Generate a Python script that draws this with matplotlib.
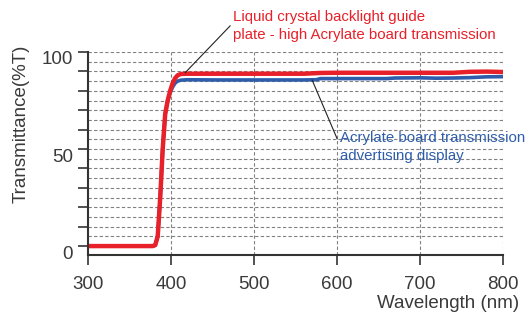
import matplotlib
matplotlib.use("Agg")
import matplotlib.pyplot as plt
from matplotlib.transforms import ScaledTranslation

plt.rcParams['font.family'] = ['Liberation Sans', 'DejaVu Sans']

wl_red = [300, 370, 378, 381, 384, 387, 390, 393, 396, 399, 402, 405, 408, 412, 420, 450, 500, 560, 580, 600, 650, 700, 740, 760, 780, 800]
t_red = [0, 0, 0, 0.5, 5, 25, 50, 68, 75, 80, 84, 86.5, 88, 88.7, 88.8, 88.8, 88.8, 88.8, 89.2, 89.3, 89.3, 89.3, 89.3, 89.8, 89.9, 89.7]

wl_blue = [300, 370, 378, 381, 384, 387, 390, 393, 396, 399, 402, 405, 408, 412, 420, 450, 500, 560, 575, 580, 620, 660, 670, 700, 720, 740, 760, 780, 800]
t_blue = [0, 0, 0, 0.5, 5, 25, 50, 68, 75, 79, 82, 84, 85, 85.5, 85.7, 85.6, 85.6, 85.6, 85.7, 86.3, 86.3, 86.3, 86.6, 86.7, 86.5, 86.6, 86.8, 87.2, 87.3]

red = '#e8202a'
blue = '#2e5dab'
txt = '#3a3a3a'

fig = plt.figure(figsize=(5.29, 3.12), dpi=100)
ax = fig.add_axes([88/529, 1-255/312, (503-88)/529, (255-52)/312])

ax.plot(wl_blue, t_blue, color=blue, lw=2.6, solid_capstyle='butt')
ax.plot(wl_red, t_red, color=red, lw=3.2, solid_capstyle='butt')

ax.set_xlim(300, 800)
ax.set_ylim(-4.6, 100)
ax.set_xticks([300, 400, 500, 600, 700, 800])
ax.set_yticks([0, 50, 100])
ax.set_yticks(range(0, 101, 10), minor=True)

for y in range(5, 101, 5):
    ax.axhline(y, color='#808080', lw=0.8, ls=(0, (3, 2)), zorder=0)
for x in [400, 500, 600, 700, 800]:
    ax.axvline(x, color='#808080', lw=0.8, ls=(0, (3, 2)), zorder=0)

for s in ['top', 'right']:
    ax.spines[s].set_visible(False)
for s in ['left', 'bottom']:
    ax.spines[s].set_color('#333333')
    ax.spines[s].set_linewidth(1.5)

ax.tick_params(axis='both', which='both', direction='out', color='#333333', width=1.2, labelsize=13.5, labelcolor=txt)
ax.tick_params(axis='x', length=7, pad=8)
ax.tick_params(axis='y', which='major', length=7, pad=4)
ax.tick_params(axis='y', which='minor', length=7)

off = ScaledTranslation(0, -6/100, fig.dpi_scale_trans)
for lab in ax.get_yticklabels():
    lab.set_transform(lab.get_transform() + off)

fig.text(21/529, 1-124/312, 'Transmittance(%T)', rotation=90, ha='center', va='center', fontsize=13.5, color=txt)
fig.text(519/529, 1-303/312, 'Wavelength (nm)', ha='right', va='center', fontsize=13.5, color=txt)

ax.annotate('Liquid crystal backlight guide\nplate - high Acrylate board transmission',
            xy=(417, 89.3), xycoords='data', xytext=(233/529, 1-10/312), textcoords='figure fraction',
            ha='left', va='top', fontsize=10.8, color=red, linespacing=1.38,
            arrowprops=dict(arrowstyle='-', color='#222222', lw=0.8, shrinkA=0, shrinkB=0,
                            relpos=(0, 0.6)))
ax.annotate('Acrylate board transmission\nadvertising display',
            xy=(570, 85.6), xycoords='data', xytext=(340/529, 1-131/312), textcoords='figure fraction',
            ha='left', va='top', fontsize=10.8, color=blue, linespacing=1.38,
            arrowprops=dict(arrowstyle='-', color='#222222', lw=0.8, shrinkA=0, shrinkB=0,
                            relpos=(0, 0.55)))

fig.savefig('out.png', dpi=100)
